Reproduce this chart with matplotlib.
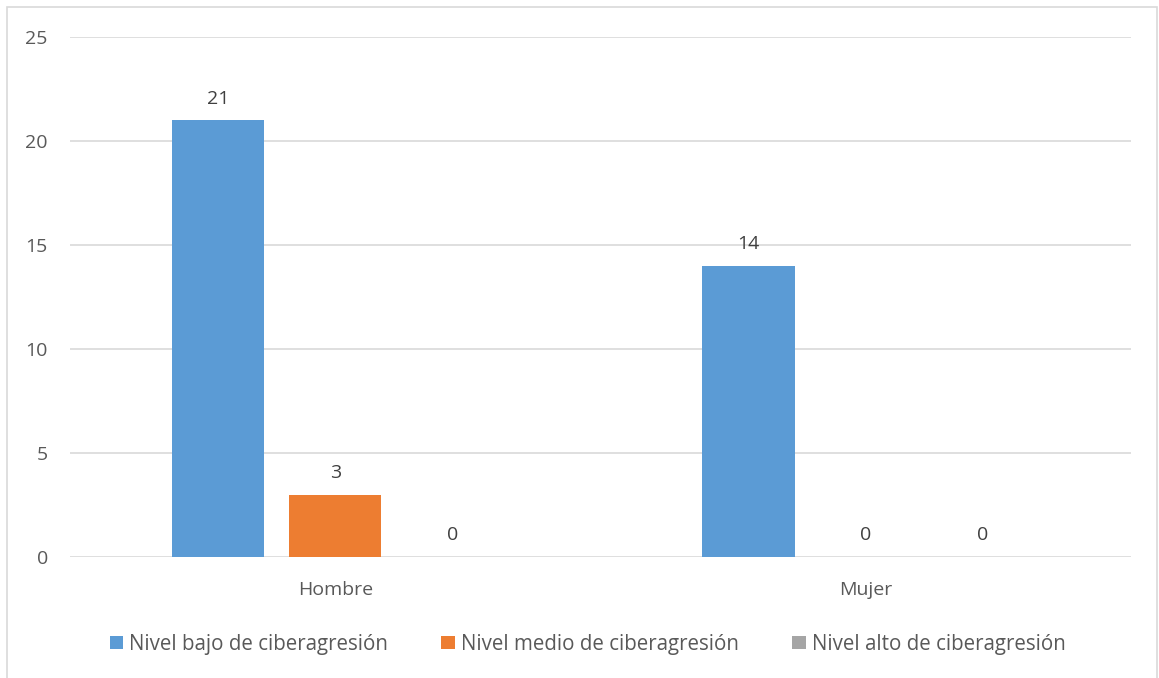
import numpy as np
import matplotlib.pyplot as plt
from matplotlib.patches import Rectangle

plt.rcParams['font.family'] = ['Open Sans', 'DejaVu Sans']

categories = ['Hombre', 'Mujer']
series = ['Nivel bajo de ciberagresión', 'Nivel medio de ciberagresión', 'Nivel alto de ciberagresión']
bajo = [21, 14]
medio = [3, 0]
alto = [0, 0]
colors = ['#5B9BD5', '#ED7D31', '#A5A5A5']

fig = plt.figure(figsize=(11.59, 6.78), dpi=100)
ax = fig.add_axes([0.0604, 0.1785, 0.9154, 0.7669])

x = np.arange(len(categories))
w = 0.174
step = 0.221
for i, (vals, name) in enumerate(zip([bajo, medio, alto], series)):
    pos = x + (i - 1) * step
    bars = ax.bar(pos, vals, width=w, color=colors[i], label=name, zorder=2)
    for b, v in zip(bars, vals):
        ax.annotate(str(v), (b.get_x() + b.get_width() / 2, v), xytext=(0, 9),
                    textcoords='offset points', ha='center', va='bottom',
                    fontsize=14, color='#404040')

ax.set_xlim(-0.5, 1.5)
ax.set_ylim(0, 25)
ax.set_yticks([0, 5, 10, 15, 20, 25])
ax.set_xticks(x)
ax.set_xticklabels(categories)
ax.tick_params(axis='both', length=0, labelsize=14, colors='#595959')
ax.tick_params(axis='x', pad=17)
ax.tick_params(axis='y', pad=16)
ax.grid(axis='y', color='#D9D9D9', linewidth=1.2, zorder=0)
for s in ax.spines.values():
    s.set_visible(False)

leg = fig.legend(loc='center', bbox_to_anchor=(0.507, 0.05), ncol=3, frameon=False,
                 fontsize=14.8, handlelength=0.65, handleheight=0.65, handletextpad=0.3,
                 columnspacing=2.6)
for t in leg.get_texts():
    t.set_color('#595959')

fig.patches.append(Rectangle((0.006, -0.01), 0.992, 1.0, transform=fig.transFigure,
                             fill=False, edgecolor='#D9D9D9', linewidth=1.2))

fig.savefig('out.png', dpi=100)
